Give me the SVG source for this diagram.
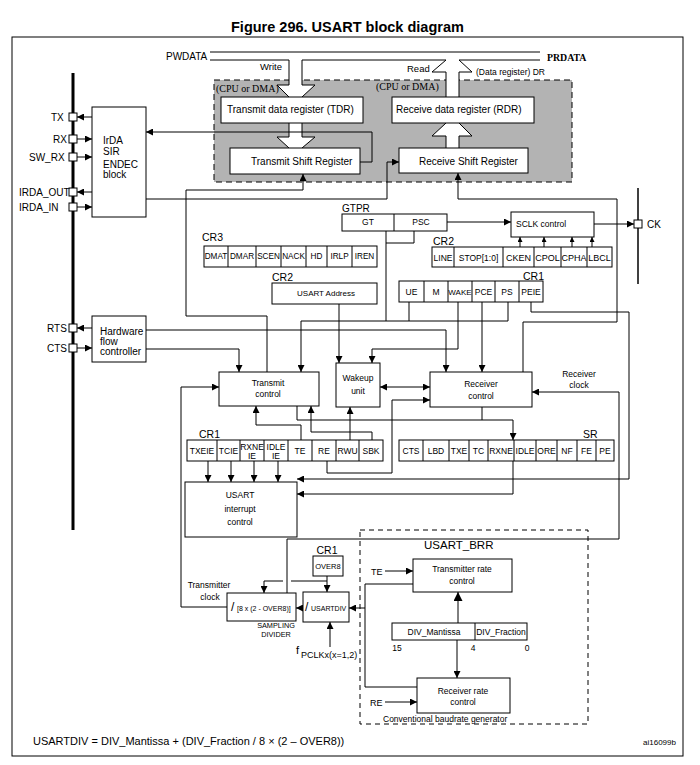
<svg xmlns="http://www.w3.org/2000/svg" width="700" height="765" viewBox="0 0 700 765">
<style>
.t{font-family:"Liberation Sans",Arial,sans-serif;fill:#000}
.s{font-family:"Liberation Serif","Times New Roman",serif;fill:#000}
.m{text-anchor:middle}
.box{fill:#fff;stroke:#000;stroke-width:1}
.ln{fill:none;stroke:#000;stroke-width:1}
.c path{fill:none;stroke:#000;stroke-width:1}
.r{font-size:8.5px}
</style>
<defs>
<marker id="a" viewBox="0 0 10 10" refX="10" refY="5" markerWidth="8" markerHeight="7" markerUnits="userSpaceOnUse" orient="auto-start-reverse"><path d="M0,0L10,5L0,10z" fill="#000"/></marker>
<marker id="sm" viewBox="0 0 10 10" refX="10" refY="5" markerWidth="5" markerHeight="5" markerUnits="userSpaceOnUse" orient="auto"><path d="M0,0L10,5L0,10z" fill="#000"/></marker>
<marker id="big" viewBox="0 0 10 10" refX="10" refY="5" markerWidth="10" markerHeight="9" markerUnits="userSpaceOnUse" orient="auto"><path d="M0,0L10,5L0,10z" fill="#000"/></marker>
</defs>
<rect width="700" height="765" fill="#fff"/>
<text class="t" x="231" y="32" font-size="14.5" font-weight="bold">Figure 296. USART block diagram</text>
<rect x="12" y="37" width="671" height="719" class="ln"/>

<!-- shaded data area -->
<g id="dataregion">
<rect x="214" y="80" width="358" height="102" fill="#b3b3b3" stroke="#000" stroke-width="1" stroke-dasharray="6,4"/>
<text class="s" x="216" y="92" font-size="10">(CPU or DMA)</text>
<text class="s" x="376" y="90" font-size="10">(CPU or DMA)</text>
</g>

<!-- bus and block arrows -->
<g id="bus">
<polygon points="289,60 302,60 302,85 315,85 302,97 289,97 277,85 289,85" fill="#fff"/>
<polygon points="289,123 302,123 302,137 315,137 302,148 289,148 277,137 289,137" fill="#fff"/>
<polygon points="446,60 459,60 472,72 459,72 459,97 446,97 446,72 432,72" fill="#fff"/>
<polygon points="446,123 459,123 472,136 459,136 459,148 446,148 446,136 432,136" fill="#fff"/>
<path class="ln" d="M210,52H540M210,60H289V85H277L289,97M302,60V85H315L302,97M302,60H446L432,72H446V97M459,97V72H472L459,60H540"/>
<path class="ln" d="M289,123V137H277L289,148M302,123V137H315L302,148"/>
<path class="ln" d="M446,148V136H432L446,123M459,148V136H472L459,123"/>
<text class="t" x="166" y="60" font-size="10">PWDATA</text>
<text class="s" x="547" y="61" font-size="9.8" font-weight="bold">PRDATA</text>
<text class="t" x="260" y="70" font-size="9.5">Write</text>
<text class="t" x="407" y="72" font-size="9.5">Read</text>
<text class="t" x="476" y="75" font-size="8.5">(Data register) DR</text>
</g>

<g id="TDR"><rect x="221" y="97" width="142" height="26" class="box"/><text class="t" x="227" y="113" font-size="10">Transmit data register (TDR)</text></g>
<g id="RDR"><rect x="392" y="97" width="142" height="26" class="box"/><text class="t" x="396" y="113" font-size="10">Receive data register (RDR)</text></g>
<g id="TSR"><rect x="230" y="148" width="130" height="26" class="box"/><text class="t" x="251" y="165" font-size="10">Transmit Shift Register</text></g>
<g id="RSR"><rect x="399" y="148" width="129" height="25" class="box"/><text class="t" x="419" y="165" font-size="10">Receive Shift Register</text></g>

<!-- pins -->
<g id="pins">
<line x1="73" y1="73" x2="73" y2="530" stroke="#000" stroke-width="3"/>
<line x1="638" y1="188" x2="638" y2="284" stroke="#000" stroke-width="1.5"/>
<rect x="69" y="113" width="8" height="8" class="box"/>
<rect x="69" y="135" width="8" height="8" class="box"/>
<rect x="69" y="153" width="8" height="8" class="box"/>
<rect x="69" y="188" width="8" height="8" class="box"/>
<rect x="69" y="203" width="8" height="8" class="box"/>
<rect x="69" y="324" width="8" height="8" class="box"/>
<rect x="69" y="344" width="8" height="8" class="box"/>
<rect x="634" y="220" width="8" height="8" class="box"/>
<text class="t" x="51" y="121" font-size="10">TX</text>
<text class="t" x="53" y="143" font-size="10">RX</text>
<text class="t" x="29" y="161" font-size="10">SW_RX</text>
<text class="t" x="19" y="196" font-size="10">IRDA_OUT</text>
<text class="t" x="19" y="211" font-size="10">IRDA_IN</text>
<text class="t" x="47" y="332" font-size="10">RTS</text>
<text class="t" x="47" y="352" font-size="10">CTS</text>
<text class="t" x="647" y="228" font-size="10">CK</text>
</g>

<g id="IrDA"><rect x="92" y="107" width="54" height="110" class="box"/>
<text class="t" font-size="10"><tspan x="103" y="144">IrDA</tspan><tspan x="103" y="155">SIR</tspan><tspan x="103" y="168">ENDEC</tspan><tspan x="103" y="178">block</tspan></text></g>

<g id="HWFC"><rect x="92" y="316" width="54" height="46" class="box"/>
<text class="t" font-size="10"><tspan x="100" y="335">Hardware</tspan><tspan x="100" y="345">flow</tspan><tspan x="100" y="355">controller</tspan></text></g>

<g id="GTPR"><text class="t" x="342" y="212" font-size="10">GTPR</text>
<rect x="342" y="214" width="105" height="17" class="box"/><line x1="394" y1="214" x2="394" y2="231" class="ln"/>
<text class="t m r" x="368" y="225">GT</text><text class="t m r" x="421" y="225">PSC</text></g>

<g id="SCLK"><rect x="511" y="212" width="83" height="25" class="box"/><text class="t" x="516" y="227" font-size="8.5">SCLK control</text></g>

<g id="CR3"><text class="t" x="202" y="241" font-size="10.5">CR3</text>
<rect x="204" y="246" width="173" height="21" class="box"/>
<path class="ln" d="M228,246V267M256,246V267M281,246V267M306,246V267M327,246V267M352,246V267"/>
<text class="t m" font-size="8.2" y="259"><tspan x="216">DMAT</tspan><tspan x="242">DMAR</tspan><tspan x="268.5">SCEN</tspan><tspan x="293.5">NACK</tspan><tspan x="316.5">HD</tspan><tspan x="339.5">IRLP</tspan><tspan x="364.5">IREN</tspan></text></g>

<g id="CR2ctl"><text class="t" x="433" y="245" font-size="10.5">CR2</text>
<rect x="432" y="247" width="180" height="20" class="box"/>
<path class="ln" d="M454,247V267M503,247V267M534,247V267M561,247V267M587,247V267"/>
<text class="t m r" y="261"><tspan x="443">LINE</tspan><tspan x="478.5">STOP[1:0]</tspan></text>
<text class="t m" font-size="9" y="261"><tspan x="518.5">CKEN</tspan><tspan x="547.5">CPOL</tspan><tspan x="574">CPHA</tspan><tspan x="599.5">LBCL</tspan></text></g>

<g id="CR2addr"><text class="t" x="272" y="281" font-size="10.5">CR2</text>
<rect x="272" y="283" width="105" height="21" class="box"/>
<text class="t m" x="326" y="296" font-size="8">USART Address</text></g>

<g id="CR1top"><text class="t" x="523" y="280" font-size="10.5">CR1</text>
<rect x="399" y="281" width="144" height="21" class="box"/>
<path class="ln" d="M424,281V302M448,281V302M472,281V302M495,281V302M519,281V302"/>
<text class="t m r" y="295"><tspan x="411.5">UE</tspan><tspan x="436">M</tspan><tspan x="483.5">PCE</tspan><tspan x="507">PS</tspan><tspan x="531">PEIE</tspan></text>
<text class="t m" font-size="8" x="460" y="295">WAKE</text></g>

<g id="TxCtl"><rect x="219" y="372" width="100" height="34" class="box"/>
<text class="t m" font-size="8.5"><tspan x="268" y="386">Transmit</tspan><tspan x="268" y="397">control</tspan></text></g>

<g id="Wakeup"><rect x="336" y="363" width="44" height="44" class="box"/>
<text class="t m" font-size="8.5"><tspan x="358" y="381">Wakeup</tspan><tspan x="358" y="394">unit</tspan></text></g>

<g id="RxCtl"><rect x="430" y="372" width="102" height="35" class="box"/>
<text class="t m" font-size="8.5"><tspan x="481" y="387">Receiver</tspan><tspan x="481" y="399">control</tspan></text></g>

<g id="CR1bot"><text class="t" x="199" y="438" font-size="10.5">CR1</text>
<rect x="187" y="440" width="196" height="21" class="box"/>
<path class="ln" d="M217,440V461M240,440V461M264,440V461M288,440V461M312,440V461M336,440V461M359,440V461"/>
<text class="t m r" y="454"><tspan x="202">TXEIE</tspan><tspan x="228.5">TCIE</tspan><tspan x="324">RE</tspan><tspan x="300">TE</tspan><tspan x="347.5">RWU</tspan><tspan x="371">SBK</tspan></text>
<text class="t m r"><tspan x="252" y="450">RXNE</tspan><tspan x="252" y="459">IE</tspan><tspan x="276" y="450">IDLE</tspan><tspan x="276" y="459">IE</tspan></text></g>

<g id="SR"><text class="t" x="583" y="438" font-size="10.5">SR</text>
<rect x="399" y="440" width="215" height="21" class="box"/>
<path class="ln" d="M423,440V461M449,440V461M469,440V461M488,440V461M514,440V461M536,440V461M557,440V461M577,440V461M596,440V461"/>
<text class="t m r" y="454"><tspan x="411">CTS</tspan><tspan x="436">LBD</tspan><tspan x="459">TXE</tspan><tspan x="478.5">TC</tspan><tspan x="501">RXNE</tspan><tspan x="525">IDLE</tspan><tspan x="546.5">ORE</tspan><tspan x="567">NF</tspan><tspan x="586.5">FE</tspan><tspan x="605">PE</tspan></text></g>

<g id="IntCtl"><rect x="185" y="482" width="112" height="55" class="box"/>
<text class="t m" font-size="8.5"><tspan x="240" y="498">USART</tspan><tspan x="240" y="512">interrupt</tspan><tspan x="240" y="525">control</tspan></text></g>

<g id="OVER8"><text class="t m" x="327" y="554" font-size="10.5">CR1</text>
<rect x="313" y="556" width="30" height="20" class="box"/>
<text class="t m" x="328" y="569" font-size="7.5">OVER8</text></g>

<g id="SampDiv"><rect x="227" y="593" width="69" height="28" class="box"/>
<text class="t" x="231" y="611"><tspan font-size="12">/</tspan><tspan x="237" font-size="7">[8 x (2 - OVER8)]</tspan></text>
<text class="t m" font-size="7.3"><tspan x="276" y="628">SAMPLING</tspan><tspan x="276" y="637">DIVIDER</tspan></text></g>

<g id="USARTDIV"><rect x="303" y="592" width="46" height="30" class="box"/>
<text class="t" x="305" y="611"><tspan font-size="12">/</tspan><tspan x="311" font-size="7">USARTDIV</tspan></text></g>

<g id="fPCLK"><text class="t" x="296" y="654"><tspan font-size="11">f</tspan><tspan x="301" y="658" font-size="9">PCLKx(x=1,2)</tspan></text></g>

<g id="BRR">
<rect x="360" y="530" width="228" height="194" fill="none" stroke="#000" stroke-width="1" stroke-dasharray="5,4"/>
<text class="t" x="424" y="549" font-size="11.5">USART_BRR</text>
<text class="t" x="383" y="722" font-size="8.5">Conventional baudrate generator</text>
<text class="t" x="371" y="575" font-size="9">TE</text>
<text class="t" x="370" y="706" font-size="9">RE</text>
</g>
<g id="TxRate"><rect x="413" y="559" width="99" height="33" class="box"/>
<text class="t m" font-size="8.5"><tspan x="462" y="572">Transmitter rate</tspan><tspan x="462" y="584">control</tspan></text></g>
<g id="DIVreg"><rect x="392" y="623" width="135" height="17" class="box"/><line x1="475" y1="623" x2="475" y2="640" class="ln"/>
<text class="t m" font-size="8.5"><tspan x="434" y="635">DIV_Mantissa</tspan><tspan x="501" y="635">DIV_Fraction</tspan></text>
<text class="t m r" y="651"><tspan x="397">15</tspan><tspan x="473">4</tspan><tspan x="527">0</tspan></text></g>
<g id="RxRate"><rect x="417" y="678" width="93" height="35" class="box"/>
<text class="t m" font-size="8.5"><tspan x="463" y="694">Receiver rate</tspan><tspan x="463" y="705">control</tspan></text></g>

<g id="labels">
<text class="t m" font-size="8.5"><tspan x="579" y="377">Receiver</tspan><tspan x="579" y="388">clock</tspan></text>
<text class="t m" font-size="8.5"><tspan x="209" y="588">Transmitter</tspan><tspan x="210" y="600">clock</tspan></text>
<text class="t" x="33" y="745" font-size="11">USARTDIV = DIV_Mantissa + (DIV_Fraction / 8 × (2 – OVER8))</text>
<text class="t" x="643" y="745" font-size="8">ai16099b</text>
</g>

<g id="connectors" class="c">
<path d="M92,117H77" marker-end="url(#a)"/>
<path d="M77,139H92" marker-end="url(#a)"/>
<path d="M77,157H92" marker-end="url(#a)"/>
<path d="M92,192H77" marker-end="url(#a)"/>
<path d="M77,207H92" marker-end="url(#a)"/>
<path d="M92,328H77" marker-end="url(#a)"/>
<path d="M77,348H92" marker-end="url(#a)"/>
<path d="M360,162H372V132H146" marker-end="url(#a)"/>
<path d="M146,199H387V162H399" marker-end="url(#a)"/>
<path d="M267,372V316H186V190H303V174" marker-end="url(#a)"/>
<path d="M523,372V322H617V199H458V173" marker-end="url(#a)"/>
<path d="M447,222H511" marker-end="url(#a)"/>
<path d="M594,224H634" marker-end="url(#a)"/>
<path d="M520,247V237" marker-end="url(#sm)"/>
<path d="M544,247V237" marker-end="url(#sm)"/>
<path d="M572,247V237" marker-end="url(#sm)"/>
<path d="M592,247V237" marker-end="url(#sm)"/>
<path d="M414,231V243H386"/>
<path d="M386,231V321H301V372" marker-end="url(#a)"/>
<path d="M409,302V321M508,302V321H386"/>
<path d="M146,330H446V372" marker-end="url(#a)"/>
<path d="M146,349H239V372" marker-end="url(#a)"/>
<path d="M458,302V349H372V363" marker-end="url(#a)"/>
<path d="M339,304V363" marker-end="url(#a)"/>
<path d="M482,302V372" marker-end="url(#a)"/>
<path d="M531,302V312H629V479H297" marker-end="url(#a)"/>
<path d="M380,387H430" marker-start="url(#a)" marker-end="url(#a)"/>
<path d="M327,461V473H392V400H430" marker-end="url(#a)"/>
<path d="M301,440V425H256V406" marker-end="url(#a)"/>
<path d="M372,440V432H311V406" marker-end="url(#a)"/>
<path d="M350,440V407" marker-end="url(#a)"/>
<path d="M297,406V420H513V440" marker-end="url(#a)"/>
<path d="M482,407V420"/>
<path d="M513,461V494H297" marker-end="url(#a)"/>
<path d="M208,461V482" marker-end="url(#a)"/>
<path d="M231,461V482" marker-end="url(#a)"/>
<path d="M254,461V482" marker-end="url(#a)"/>
<path d="M278,461V482" marker-end="url(#a)"/>
<path d="M287,593V539H619V392H532" marker-end="url(#a)"/>
<path d="M327,576V592" marker-end="url(#a)"/>
<path d="M327,581H291M283,581H264V593" marker-end="url(#a)"/>
<path d="M303,608H296" marker-end="url(#a)"/>
<path d="M227,607H181V387H219" marker-end="url(#a)"/>
<path d="M330,647V622" marker-end="url(#a)"/>
<path d="M413,584H365V687H417M365,608H349" marker-end="url(#a)"/>
<path d="M385,571H413" marker-end="url(#a)"/>
<path d="M385,702H417" marker-end="url(#a)"/>
<path d="M458,623V592" stroke-width="2.5" marker-end="url(#big)"/>
<path d="M457,640V678" marker-end="url(#a)"/>
</g>
</svg>
